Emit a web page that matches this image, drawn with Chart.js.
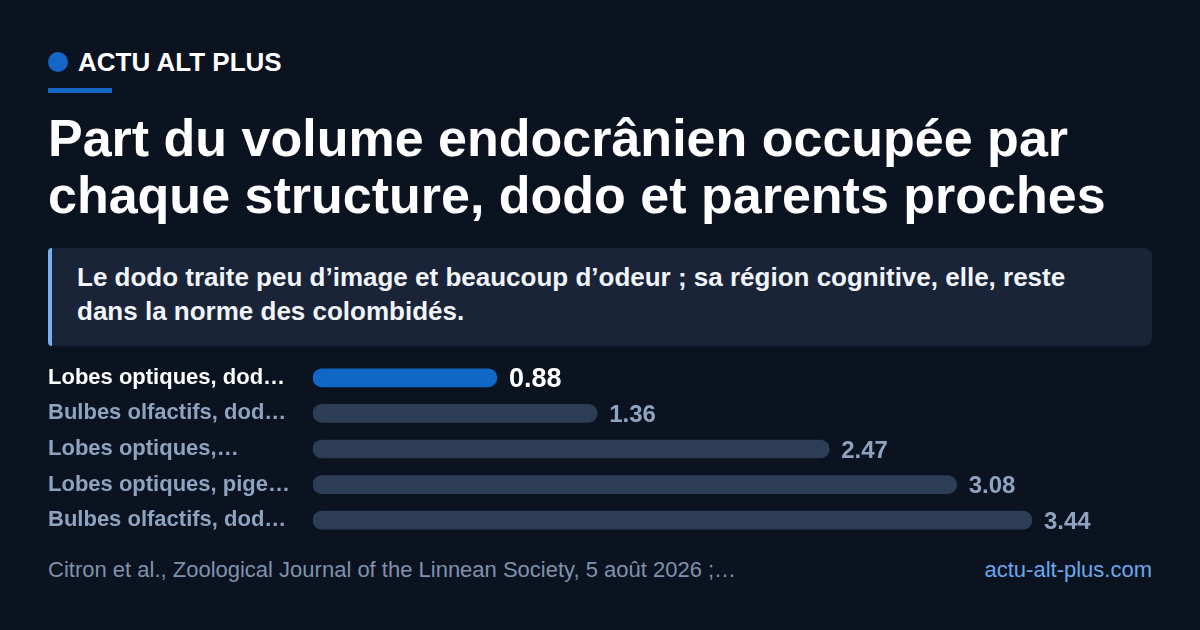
<!DOCTYPE html>
<html lang="fr">
<head>
<meta charset="utf-8">
<script src="https://cdn.jsdelivr.net/npm/chart.js@4"></script>
<style>
  html, body { margin: 0; padding: 0; }
  body {
    width: 1200px; height: 630px; overflow: hidden; position: relative;
    background: #0b1220; font-family: "Liberation Sans", Arial, sans-serif; color: #fff;
  }
  .brand { position: absolute; left: 48px; top: 48px; height: 28px; display: flex; align-items: center; }
  .dot { width: 20px; height: 20px; border-radius: 50%; background: #1467c6; margin-right: 10px; }
  .brand span { font-weight: 700; font-size: 26px; }
  .rule { position: absolute; left: 48px; top: 88px; width: 64px; height: 5px; background: #1467c6; }
  h1 { position: absolute; left: 48px; top: 110px; margin: 0; width: 1110px;
       font-size: 52px; line-height: 57px; font-weight: 700; }
  .note { position: absolute; left: 48px; top: 248px; width: 1104px; height: 98px; box-sizing: border-box;
          background: #1a2439; border-left: 4px solid #76b0ee; border-radius: 4px 8px 8px 4px;
          padding: 12px 24px 0 25px; font-size: 26px; line-height: 34px; font-weight: 700; color: #f1f4f8; }
  .chart { position: absolute; left: 0; top: 360px; width: 1200px; height: 180px; }
  .src { position: absolute; left: 48px; top: 557px; font-size: 22px; color: #7f92ad; }
  .site { position: absolute; right: 48px; top: 557px; font-size: 22px; color: #6aa8eb; }
</style>
</head>
<body>
<div class="brand"><div class="dot"></div><span>ACTU ALT PLUS</span></div>
<div class="rule"></div>
<h1>Part du volume endocrânien occupée par chaque structure, dodo et parents proches</h1>
<div class="note">Le dodo traite peu d’image et beaucoup d’odeur ; sa région cognitive, elle, reste dans la norme des colombidés.</div>
<div class="chart"><canvas id="myChart"></canvas></div>
<div class="src">Citron et al., Zoological Journal of the Linnean Society, 5 août 2026 ;…</div>
<div class="site">actu-alt-plus.com</div>

<script>
const labels = [
    'Lobes optiques, dod…',
    'Bulbes olfactifs, dod…',
    'Lobes optiques,…',
    'Lobes optiques, pige…',
    'Bulbes olfactifs, dod…'
];
const valeurs = [0.88, 1.36, 2.47, 3.08, 3.44];
const couleurs = ['#1067c6', '#2e3d56', '#2e3d56', '#2e3d56', '#2e3d56'];

// etiquettes de valeur au bout des barres
const valeurLabels = {
    id: 'valeurLabels',
    afterDatasetsDraw(chart) {
        const ctx = chart.ctx;
        const meta = chart.getDatasetMeta(0);
        ctx.save();
        ctx.textBaseline = 'middle';
        ctx.textAlign = 'left';
        meta.data.forEach(function(bar, i) {
            if (i === 0) {
                ctx.font = 'bold 27px "Liberation Sans", Arial, sans-serif';
                ctx.fillStyle = '#ffffff';
            } else {
                ctx.font = 'bold 24px "Liberation Sans", Arial, sans-serif';
                ctx.fillStyle = '#8ea3c0';
            }
            ctx.fillText(valeurs[i].toFixed(2), bar.x + 12, bar.y + 2);
        });
        ctx.restore();
    }
};

const data = {
    labels: labels,
    datasets: [{
        data: valeurs,
        backgroundColor: couleurs,
        borderRadius: 9,
        borderSkipped: false,
        barThickness: 18
    }]
};

const config = {
    type: 'bar',
    data: data,
    options: {
        indexAxis: 'y',
        responsive: true,
        maintainAspectRatio: false,
        animation: false,
        layout: {
            padding: { left: 48, right: 51, top: 0, bottom: 2 }
        },
        scales: {
            x: {
                display: false,
                min: 0,
                max: 4
            },
            y: {
                grid: { display: false },
                border: { display: false },
                afterFit: function(scale) {
                    scale.width = 265;
                    scale.paddingTop = 0;
                    scale.paddingBottom = 0;
                },
                ticks: {
                    crossAlign: 'far',
                    padding: 0,
                    color: function(c) { return c.index === 0 ? '#ffffff' : '#8ea3c0'; },
                    font: { family: '"Liberation Sans", Arial, sans-serif', size: 22, weight: 'bold' }
                }
            }
        },
        plugins: {
            legend: { display: false },
            tooltip: { enabled: false }
        }
    },
    plugins: [valeurLabels]
};

const myChart = new Chart(
    document.getElementById('myChart'),
    config
);
</script>
</body>
</html>
